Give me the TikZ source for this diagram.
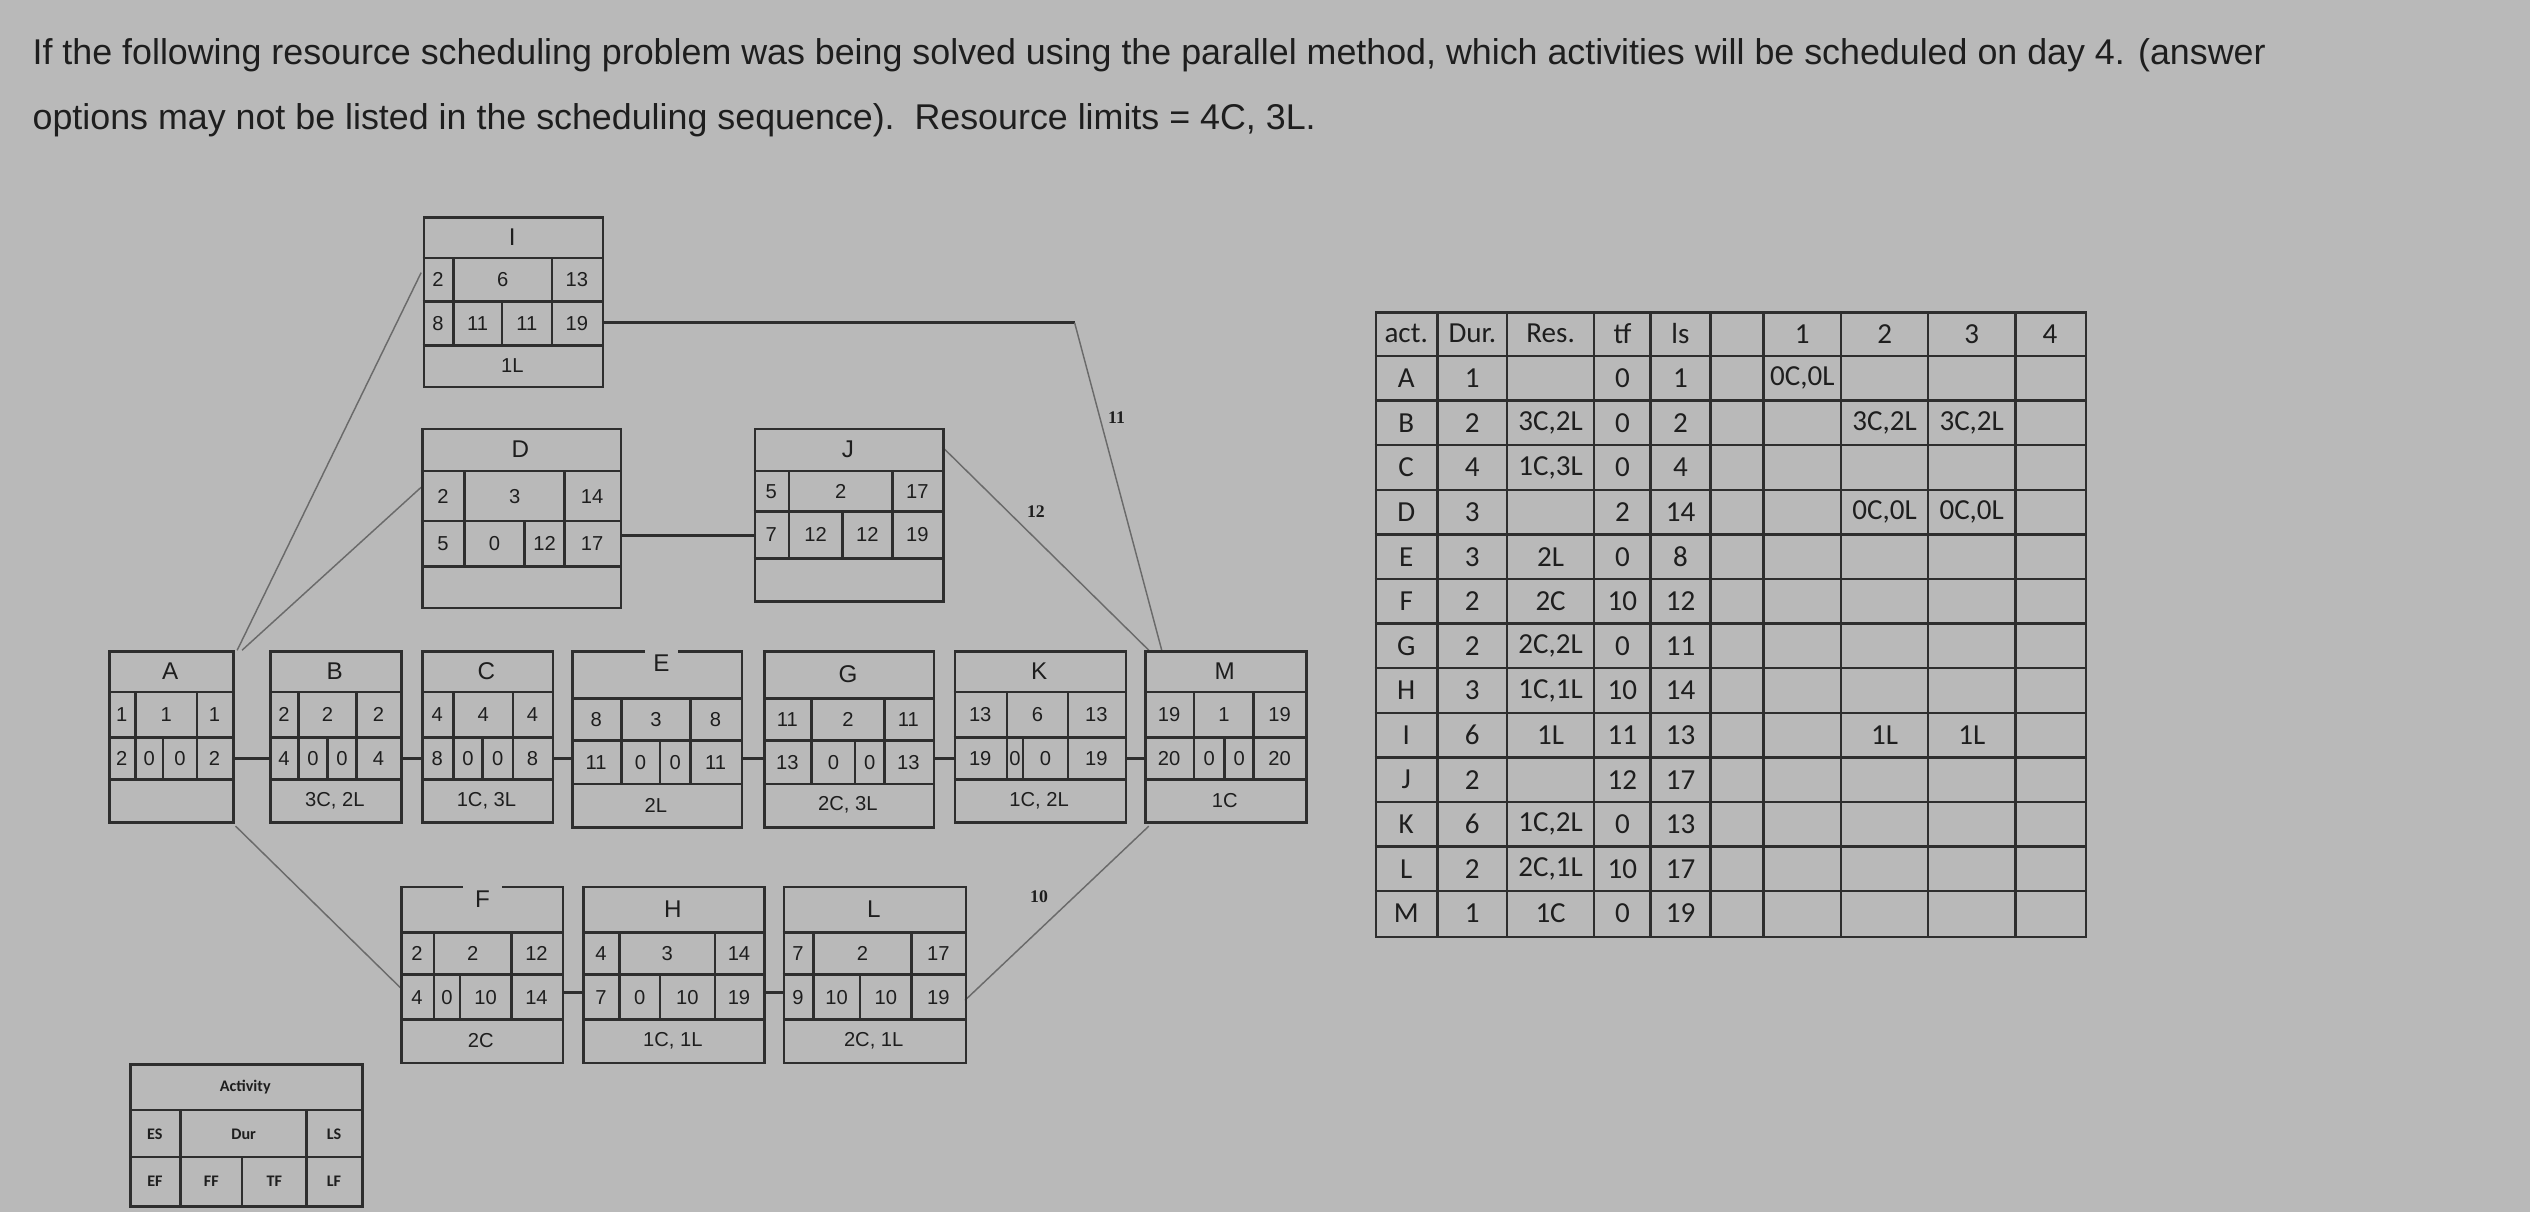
\documentclass[tikz,border=0pt]{standalone}
\usepackage{fontspec}
\setmainfont{Liberation Sans}
\newfontfamily\calfont{Carlito}
\newfontfamily\serfont{Liberation Serif}
\definecolor{bg}{HTML}{B9B9B9}
\definecolor{ink}{HTML}{1E1E1E}
\definecolor{ln}{HTML}{2E2E2E}
\definecolor{thin}{HTML}{6A6A6A}
\tikzset{
  bx/.style={draw=ln,line width=1.6pt},
  bxn/.style={draw=ln,line width=1.6pt,inner sep=0pt,anchor=north west},
  tt/.style={text=ink,font=\fontsize{15}{15}\selectfont,inner sep=0pt},
  dg/.style={text=ink,font=\fontsize{12.5}{13}\selectfont,inner sep=0pt},
  rs/.style={text=ink,font=\fontsize{12.5}{13}\selectfont,inner sep=0pt},
  conn/.style={draw=ln,line width=2pt},
  thinl/.style={draw=thin,line width=0.9pt},
  lab/.style={text=ink,font=\serfont\bfseries\fontsize{11}{11}\selectfont,inner sep=0pt},
  tb/.style={text=ink,font=\calfont\fontsize{18}{18}\selectfont,inner sep=0pt},
  lg/.style={text=ink,font=\calfont\bfseries\fontsize{10}{10}\selectfont,inner sep=0pt},
  hd/.style={text=ink,font=\fontsize{22.2}{23}\selectfont,inner sep=0pt,anchor=base west}
}
% frame: name x0 x1 y0 y1 y2 y3 y4
\newcommand\frm[8]{%
  \node[bxn,minimum width={(#3-#2)*1pt},minimum height={(#8-#4)*1pt}] (#1) at (#2,#4) {};
  \draw[bx] (#2,#5)--(#3,#5) (#2,#6)--(#3,#6) (#2,#7)--(#3,#7);}
% three cells: ya yb x0 a b x1 t1 t2 t3
\newcommand\rthree[9]{%
  \draw[bx] (#4,#1)--(#4,#2) (#5,#1)--(#5,#2);
  \node[dg] at ({(#3+#4)/2},{(#1+#2)/2}) {#7};
  \node[dg] at ({(#4+#5)/2},{(#1+#2)/2}) {#8};
  \node[dg] at ({(#5+#6)/2},{(#1+#2)/2}) {#9};}
% four cells: ya yb x0 a b c x1 {t1}{t2}{t3}{t4}
\newcommand\rfour[8]{%
  \def\ya{#1}\def\yb{#2}\def\xa{#3}\def\xb{#4}\def\xc{#5}\def\xd{#6}\def\xe{#7}%
  \draw[bx] (#4,#1)--(#4,#2) (#5,#1)--(#5,#2) (#6,#1)--(#6,#2);
  \fourt#8}
\newcommand\fourt[4]{%
  \node[dg] at ({(\xa+\xb)/2},{(\ya+\yb)/2}) {#1};
  \node[dg] at ({(\xb+\xc)/2},{(\ya+\yb)/2}) {#2};
  \node[dg] at ({(\xc+\xd)/2},{(\ya+\yb)/2}) {#3};
  \node[dg] at ({(\xd+\xe)/2},{(\ya+\yb)/2}) {#4};}
% title and resource: x0 x1 y0 y1 y3 y4 title res
\newcommand\tr[8]{%
  \node[tt] at ({(#1+#2)/2},{(#3+#4)/2}) {#7};
  \node[rs] at ({(#1+#2)/2},{(#5+#6)/2}) {#8};}
% table row: i act dur res tf ls d1 d2 d3
\newcommand\trow[9]{%
  \pgfmathsetmacro\yy{193+27.64*(#1+0.5)}
  \node[tb] at (871.5,\yy) {#2};
  \node[tb] at (912.5,\yy) {#3};
  \node[tb] at (961,\yy) {#4};
  \node[tb] at (1005.5,\yy) {#5};
  \node[tb] at (1041.5,\yy) {#6};
  \node[tb] at (1117,\yy) {#7};
  \node[tb] at (1168,\yy) {#8};
  \node[tb] at (1222,\yy) {#9};}
\begin{document}
\begin{tikzpicture}[x=1pt,y=-1pt]
\fill[bg] (0,0) rectangle (1568,751);
\useasboundingbox (0,0) rectangle (1568,751);
% heading
\node[hd] (h1) at (20,40) {If the following resource scheduling problem was being solved using the parallel method, which activities will be scheduled on day 4. (answer};
\node[hd] (h2) at (20,80) {options may not be listed in the scheduling sequence).\ \ Resource limits = 4C, 3L.};

% thin connectors (behind boxes)
\coordinate (a1) at (147,403); \coordinate (i1) at (261,169);
\coordinate (a2) at (150,403); \coordinate (d1) at (261,302);
\coordinate (a3) at (146,512); \coordinate (f1) at (248,612);
\coordinate (i2) at (373,200); \coordinate (bend) at (666,200); \coordinate (m1) at (720,403);
\coordinate (j1) at (584,277); \coordinate (m2) at (712,403);
\coordinate (l1) at (598,620); \coordinate (m3) at (712,512);
\draw[thinl] (a1)--(i1); \draw[thinl] (a2)--(d1); \draw[thinl] (a3)--(f1);
\draw[conn] (i2)--(bend); \draw[thinl] (bend)--(m1);
\draw[thinl] (j1)--(m2); \draw[thinl] (l1)--(m3);
\node[lab] (l11) at (692,259) {11};
\node[lab] (l12) at (642,317) {12};
\node[lab] (l10) at (644,556) {10};

% I
\frm{I}{262}{373}{134}{160}{187}{214}{239}
\rthree{160}{187}{262}{281}{342}{373}{2}{6}{13}
\rfour{187}{214}{262}{281}{311}{342}{373}{{8}{11}{11}{19}}
\tr{262}{373}{134}{160}{214}{239}{I}{1L}
% D
\frm{D}{261}{384}{265}{292}{323}{351}{376}
\rthree{292}{323}{261}{288}{350}{384}{2}{3}{14}
\rfour{323}{351}{261}{288}{325}{350}{384}{{5}{0}{12}{17}}
\tr{261}{384}{265}{292}{351}{376}{D}{}
% J
\frm{J}{467}{584}{265}{292}{317}{346}{372}
\rthree{292}{317}{467}{489}{553}{584}{5}{2}{17}
\rfour{317}{346}{467}{489}{522}{553}{584}{{7}{12}{12}{19}}
\tr{467}{584}{265}{292}{346}{372}{J}{}
\draw[conn] (D.east |- 0,332) -- (J.west |- 0,332);

% A
\frm{A}{67}{144}{403}{429}{457}{483}{509}
\rthree{429}{457}{67}{84}{122}{144}{1}{1}{1}
\rfour{457}{483}{67}{84}{101}{122}{144}{{2}{0}{0}{2}}
\tr{67}{144}{403}{429}{483}{509}{A}{}
% B
\frm{B}{167}{248}{403}{429}{457}{483}{509}
\rthree{429}{457}{167}{185}{221}{248}{2}{2}{2}
\rfour{457}{483}{167}{185}{203}{221}{248}{{4}{0}{0}{4}}
\tr{167}{248}{403}{429}{483}{509}{B}{3C, 2L}
% C
\frm{C}{261}{342}{403}{429}{457}{483}{509}
\rthree{429}{457}{261}{281}{318}{342}{4}{4}{4}
\rfour{457}{483}{261}{281}{299}{318}{342}{{8}{0}{0}{8}}
\tr{261}{342}{403}{429}{483}{509}{C}{1C, 3L}
% E
\frm{E}{354}{459}{403}{433}{459}{486}{512}
\rthree{433}{459}{354}{385}{428}{459}{8}{3}{8}
\rfour{459}{486}{354}{385}{409}{428}{459}{{11}{0}{0}{11}}
\tr{354}{459}{403}{433}{486}{512}{}{2L}
\node[tt,fill=bg,minimum width=20pt,minimum height=17pt] (Et) at (410,411) {E};
% G
\frm{G}{473}{578}{403}{433}{459}{486}{512}
\rthree{433}{459}{473}{503}{548}{578}{11}{2}{11}
\rfour{459}{486}{473}{503}{530}{548}{578}{{13}{0}{0}{13}}
\tr{473}{578}{403}{433}{486}{512}{G}{2C, 3L}
% K
\frm{K}{591}{697}{403}{429}{457}{483}{509}
\rthree{429}{457}{591}{624}{662}{697}{13}{6}{13}
\rfour{457}{483}{591}{624}{634}{662}{697}{{19}{0}{0}{19}}
\tr{591}{697}{403}{429}{483}{509}{K}{1C, 2L}
% M
\frm{M}{709}{809}{403}{429}{457}{483}{509}
\rthree{429}{457}{709}{740}{777}{809}{19}{1}{19}
\rfour{457}{483}{709}{740}{759}{777}{809}{{20}{0}{0}{20}}
\tr{709}{809}{403}{429}{483}{509}{M}{1C}
\foreach \p/\q in {A/B,B/C,C/E,E/G,G/K,K/M}{\draw[conn] (\p.east |- 0,470) -- (\q.west |- 0,470);}

% F
\frm{F}{248}{348}{549}{578}{604}{632}{658}
\rthree{578}{604}{248}{269}{317}{348}{2}{2}{12}
\rfour{604}{632}{248}{269}{285}{317}{348}{{4}{0}{10}{14}}
\tr{248}{348}{549}{578}{632}{658}{}{2C}
\node[tt,fill=bg,minimum width=24pt,minimum height=16pt] (Ft) at (299,557) {F};
% H
\frm{H}{361}{473}{549}{578}{604}{632}{658}
\rthree{578}{604}{361}{384}{443}{473}{4}{3}{14}
\rfour{604}{632}{361}{384}{409}{443}{473}{{7}{0}{10}{19}}
\tr{361}{473}{549}{578}{632}{658}{H}{1C, 1L}
% L
\frm{L}{485}{598}{549}{578}{604}{632}{658}
\rthree{578}{604}{485}{504}{565}{598}{7}{2}{17}
\rfour{604}{632}{485}{504}{533}{565}{598}{{9}{10}{10}{19}}
\tr{485}{598}{549}{578}{632}{658}{L}{2C, 1L}
\foreach \p/\q in {F/H,H/L}{\draw[conn] (\p.east |- 0,615) -- (\q.west |- 0,615);}

% legend
\node[bxn,minimum width=144pt,minimum height=88pt] (leg) at (80,659) {};
\draw[bx] (80,688)--(224,688) (80,717)--(224,717)
  (112,688)--(112,747) (190,688)--(190,747) (150,717)--(150,747);
\node[lg] at (152,674) {Activity};
\node[lg] at (96,703) {ES}; \node[lg] at (151,703) {Dur}; \node[lg] at (207,703) {LS};
\node[lg] at (96,732) {EF}; \node[lg] at (131,732) {FF}; \node[lg] at (170,732) {TF}; \node[lg] at (207,732) {LF};

% table
\node[bxn,minimum width=440pt,minimum height=387pt] (tab) at (852,193) {};
\foreach \x in {891,934,988,1023,1060,1093,1141,1195,1249}{\draw[bx] (\x,193)--(\x,580);}
\foreach \i in {1,...,13}{\draw[bx] (852,{193+27.64*\i})--(1292,{193+27.64*\i});}
\trow{0}{act.}{Dur.}{Res.}{tf}{ls}{1}{2}{3}
\node[tb] at (1270.5,{193+27.64*0.5}) {4};
\trow{1}{A}{1}{}{0}{1}{0C,0L}{}{}
\trow{2}{B}{2}{3C,2L}{0}{2}{}{3C,2L}{3C,2L}
\trow{3}{C}{4}{1C,3L}{0}{4}{}{}{}
\trow{4}{D}{3}{}{2}{14}{}{0C,0L}{0C,0L}
\trow{5}{E}{3}{2L}{0}{8}{}{}{}
\trow{6}{F}{2}{2C}{10}{12}{}{}{}
\trow{7}{G}{2}{2C,2L}{0}{11}{}{}{}
\trow{8}{H}{3}{1C,1L}{10}{14}{}{}{}
\trow{9}{I}{6}{1L}{11}{13}{}{1L}{1L}
\trow{10}{J}{2}{}{12}{17}{}{}{}
\trow{11}{K}{6}{1C,2L}{0}{13}{}{}{}
\trow{12}{L}{2}{2C,1L}{10}{17}{}{}{}
\trow{13}{M}{1}{1C}{0}{19}{}{}{}
\end{tikzpicture}
\end{document}
